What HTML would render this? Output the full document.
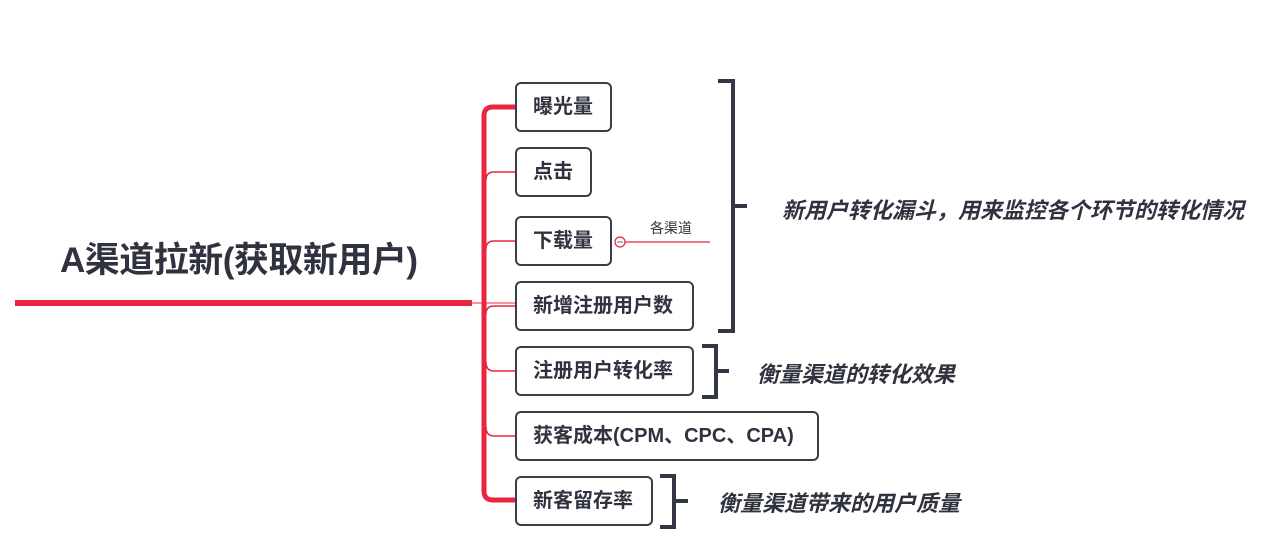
<!DOCTYPE html>
<html><head><meta charset="utf-8"><style>
body{margin:0;width:1285px;height:559px;background:#fff;position:relative;overflow:hidden;font-family:"Liberation Sans","Noto Sans CJK SC",sans-serif;color:#30333f}
.b{position:absolute;left:515px;height:50px;border:2px solid #3a3d48;border-radius:6px;box-sizing:border-box;font-weight:bold;font-size:20px;line-height:46px;padding-left:16px;background:#fff;white-space:nowrap}
.t{position:absolute;font-weight:bold;font-style:italic;font-size:22px;white-space:nowrap}
</style></head><body>
<div style="position:absolute;left:60px;top:232px;font-size:35px;font-weight:bold;white-space:nowrap;letter-spacing:-0.5px">A渠道拉新(获取新用户)</div>
<svg width="1285" height="559" style="position:absolute;left:0;top:0">
<rect x="15" y="300" width="457" height="6" fill="#e8263f"/>
<line x1="472" y1="303" x2="515" y2="303" stroke="#e8263f" stroke-width="1"/>
<path d="M515 107 H493 Q484 107 484 116 V491 Q484 500 493 500 H515" fill="none" stroke="#e8263f" stroke-width="5"/>
<g stroke="#e8263f" stroke-width="1.5" fill="none">
<path d="M486 180 Q486 172 494 172 H515"/>
<path d="M486 249 Q486 241 494 241 H515"/>
<path d="M486 314 Q486 306 494 306 H515"/>
<path d="M486 362 Q486 371 494 371 H515"/>
<path d="M486 427 Q486 436 494 436 H515"/>
</g>
<line x1="625" y1="242" x2="710" y2="242" stroke="#e8263f" stroke-width="1.2"/>
<circle cx="620" cy="242" r="5" fill="#fff" stroke="#e8263f" stroke-width="1.2"/>
<line x1="617" y1="242" x2="623" y2="242" stroke="#666" stroke-width="1"/>
<g stroke="#343746" stroke-width="4" fill="none">
<path d="M718 81 H733 V331 H718"/><path d="M733 206 H747"/>
<path d="M702 346 H716 V397 H702"/><path d="M716 371 H729"/>
<path d="M660 476 H674 V527 H660"/><path d="M674 501 H688"/>
</g>
</svg>
<div style="position:absolute;left:650px;top:218px;font-size:14px;color:#333">各渠道</div>
<div class="b" style="top:82px;width:97px">曝光量</div>
<div class="b" style="top:147px;width:77px">点击</div>
<div class="b" style="top:216px;width:97px">下载量</div>
<div class="b" style="top:281px;width:179px">新增注册用户数</div>
<div class="b" style="top:346px;width:179px">注册用户转化率</div>
<div class="b" style="top:411px;width:304px">获客成本(CPM、CPC、CPA)</div>
<div class="b" style="top:476px;width:138px">新客留存率</div>
<div class="t" style="left:782px;top:193px">新用户转化漏斗，用来监控各个环节的转化情况</div>
<div class="t" style="left:757px;top:357px">衡量渠道的转化效果</div>
<div class="t" style="left:718px;top:486px">衡量渠道带来的用户质量</div>
</body></html>
